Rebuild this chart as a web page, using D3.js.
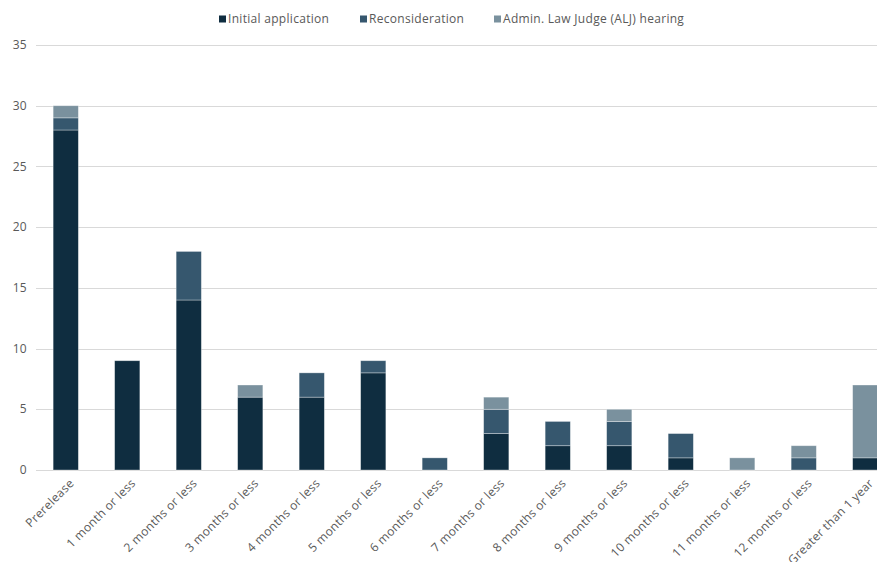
<!DOCTYPE html>
<html>
<head>
<meta charset="utf-8">
<script src="https://cdn.jsdelivr.net/npm/d3@7"></script>
<style>
  body { margin: 0; background: #fff; }
  svg { font-family: "Open Sans", sans-serif; }
</style>
</head>
<body>
<div id="chart"></div>
<script>
// categories and series
var categories = ["Prerelease", "1 month or less", "2 months or less", "3 months or less",
  "4 months or less", "5 months or less", "6 months or less", "7 months or less",
  "8 months or less", "9 months or less", "10 months or less", "11 months or less",
  "12 months or less", "Greater than 1 year"];
var seriesNames = ["Initial application", "Reconsideration", "Admin. Law Judge (ALJ) hearing"];
var initialApp = [28, 9, 14, 6, 6, 8, 0, 3, 2, 2, 1, 0, 0, 1];
var reconsideration = [1, 0, 4, 0, 2, 1, 1, 2, 2, 2, 2, 0, 1, 0];
var aljHearing = [1, 0, 0, 1, 0, 0, 0, 1, 0, 1, 0, 1, 1, 6];
var yTicks = [0, 5, 10, 15, 20, 25, 30, 35];
var colors = ["#0f2d40", "#36576e", "#7a919e"];

var W = 877, H = 562;
var svg = d3.select("#chart").append("svg")
  .attr("width", W).attr("height", H);

var rows = categories.map(function(c, i) {
  return { cat: c, s0: initialApp[i], s1: reconsideration[i], s2: aljHearing[i] };
});

var x = d3.scaleBand()
  .domain(categories)
  .range([35, 896])
  .paddingInner(0.59)
  .paddingOuter(0.295);

var y = d3.scaleLinear()
  .domain([0, 35])
  .range([470, 45]);

// gridlines
svg.append("g").selectAll("line")
  .data(yTicks)
  .enter().append("line")
  .attr("x1", 36).attr("x2", W)
  .attr("y1", d => Math.round(y(d)) + 0.5)
  .attr("y2", d => Math.round(y(d)) + 0.5)
  .style("stroke", "#d9d9d9")
  .style("stroke-width", 1);

// y labels
svg.append("g").selectAll("text")
  .data(yTicks)
  .enter().append("text")
  .attr("x", 27)
  .attr("y", d => y(d))
  .attr("dy", "0.35em")
  .attr("text-anchor", "end")
  .style("font-size", "12px")
  .style("letter-spacing", "0.3px")
  .style("fill", "#595959")
  .text(d => d);

// stacked bars
var stack = d3.stack().keys(["s0", "s1", "s2"]);
var layers = stack(rows);

svg.append("g").selectAll("g")
  .data(layers)
  .enter().append("g")
  .attr("fill", (d, i) => colors[i])
  .selectAll("rect")
  .data(d => d.filter(p => p[1] > p[0]))
  .enter().append("rect")
  .attr("x", d => x(d.data.cat))
  .attr("y", d => y(d[1]))
  .attr("width", x.bandwidth())
  .attr("height", d => y(d[0]) - y(d[1]))
  .style("stroke", "rgba(255,255,255,0.45)")
  .style("stroke-width", 0.75);

// x labels
svg.append("g").selectAll("text")
  .data(categories)
  .enter().append("text")
  .attr("transform", d => "translate(" + (x(d) + x.bandwidth() / 2 + 6) + ",481) rotate(-45)")
  .attr("text-anchor", "end")
  .attr("dy", "0.35em")
  .style("font-size", "12px")
  .style("letter-spacing", "0.3px")
  .style("fill", "#595959")
  .text(d => d);

// legend
var legendX = [219, 360, 494];
var legend = svg.append("g").selectAll("g")
  .data(seriesNames)
  .enter().append("g")
  .attr("transform", (d, i) => "translate(" + legendX[i] + ",19)");
legend.append("rect")
  .attr("x", 0).attr("y", -3.5)
  .attr("width", 7).attr("height", 7)
  .attr("fill", (d, i) => colors[i]);
legend.append("text")
  .attr("x", 9)
  .attr("dy", "0.35em")
  .style("font-size", "12px")
  .style("letter-spacing", "0.3px")
  .style("fill", "#595959")
  .text(d => d);
</script>
</body>
</html>
